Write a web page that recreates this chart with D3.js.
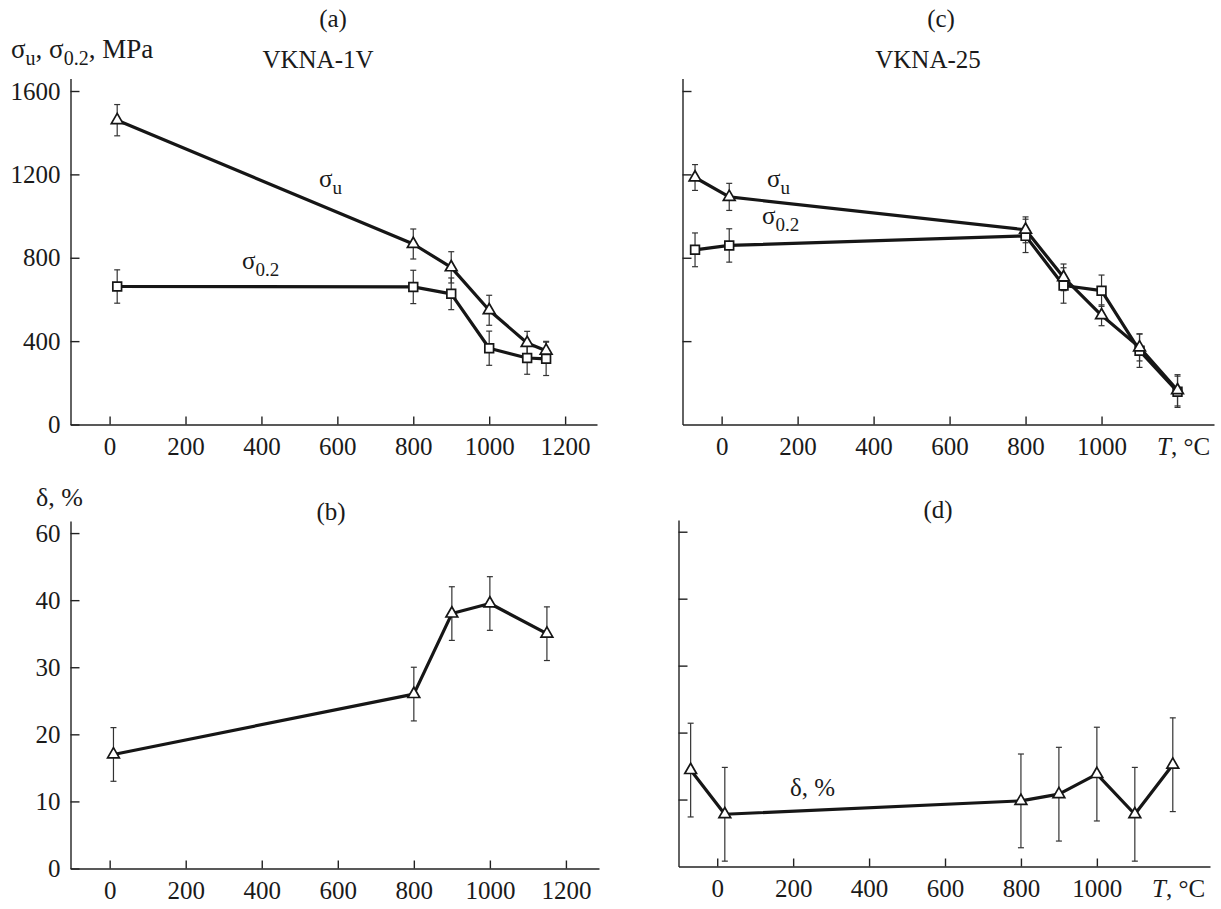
<!DOCTYPE html>
<html>
<head>
<meta charset="utf-8">
<script src="https://cdn.jsdelivr.net/npm/d3@7"></script>
<style>
  body { margin: 0; background: #fff; }
</style>
</head>
<body>
<svg id="chart" width="1221" height="909"></svg>
<script>
// (a) VKNA-1V strength
const tempA = [20, 800, 900, 1000, 1100, 1150];
const sigmaUA = [1460, 866, 754, 548, 391, 354];
const sigmaUErrA = [75, 72, 75, 72, 56, 45];
const sigma02A = [662, 660, 627, 366, 319, 315];
const sigma02ErrA = [80, 80, 76, 82, 78, 80];

// (b) VKNA-1V elongation
const tempB = [10, 800, 900, 1000, 1150];
const deltaB = [17, 26, 38, 39.5, 35];
const deltaErrB = [4, 4, 4, 4, 4];

// (c) VKNA-25 strength
const tempC = [-70, 20, 800, 900, 1000, 1100, 1200];
const sigmaUC = [1185, 1092, 934, 706, 524, 370, 164];
const sigmaUErrC = [62, 65, 62, 64, 50, 65, 75];
const sigma02C = [838, 859, 905, 667, 642, 354, 157];
const sigma02ErrC = [81, 80, 80, 85, 75, 80, 75];

// (d) VKNA-25 elongation
const tempD = [-70, 20, 800, 900, 1000, 1100, 1200];
const deltaD = [14.4, 7.8, 9.8, 10.8, 13.8, 7.8, 15.2];
const deltaErrD = [7, 7, 7, 7, 7, 7, 7];

// ticks
const tempTicks = [0, 200, 400, 600, 800, 1000, 1200];
const tempTicksC = [0, 200, 400, 600, 800, 1000];
const stressTicks = [0, 400, 800, 1200, 1600];
const stressTicksC = [400, 800, 1200, 1600];
const deltaTicks = [0, 10, 20, 30, 40, 50];
const deltaTickLabels = ['0', '10', '20', '30', '40', '60'];
const deltaTicksD = [10, 20, 30, 40, 50];

(function() {
'use strict';

const svg = d3.select('#chart');
const ink = '#161616';
const serif = '"Liberation Serif", serif';

function makePanel(p) {
  const x = d3.scaleLinear().domain(p.xDomain).range(p.xRange);
  const y = d3.scaleLinear().domain(p.yDomain).range(p.yRange);

  const xAxis = d3.axisBottom(x)
    .tickValues(p.xTicks)
    .tickSize(-8)
    .tickSizeOuter(0)
    .tickPadding(13)
    .tickFormat(d3.format('d'));

  const yAxis = d3.axisLeft(y)
    .tickValues(p.yTicks)
    .tickSize(-9)
    .tickSizeOuter(0)
    .tickPadding(10)
    .tickFormat(p.yFormat);

  [
    svg.append('g').attr('transform', 'translate(0,' + p.yRange[0] + ')').call(xAxis),
    svg.append('g').attr('transform', 'translate(' + p.xRange[0] + ',0)').call(yAxis)
  ].forEach(function(ax) {
    ax.attr('font-family', null).attr('font-size', null).attr('color', '#222');
    ax.selectAll('text')
      .style('font-family', serif)
      .style('font-size', '25px')
      .attr('fill', '#1a1a1a');
    ax.selectAll('path, line').attr('stroke-width', 1.4);
  });

  return {x: x, y: y};
}

function drawSeries(panel, xs, ys, errs, symbolType, symbolSize) {
  const rows = xs.map(function(d, i) { return {t: d, v: ys[i], e: errs[i]}; });
  const x = panel.x;
  const y = panel.y;

  const bars = svg.append('g').attr('stroke', '#333').attr('stroke-width', 1.2);
  rows.forEach(function(d) {
    bars.append('line')
      .attr('x1', x(d.t)).attr('x2', x(d.t))
      .attr('y1', y(d.v - d.e)).attr('y2', y(d.v + d.e));
    [d.v - d.e, d.v + d.e].forEach(function(v) {
      bars.append('line')
        .attr('x1', x(d.t) - 3).attr('x2', x(d.t) + 3)
        .attr('y1', y(v)).attr('y2', y(v));
    });
  });

  svg.append('path')
    .datum(rows)
    .attr('fill', 'none')
    .attr('stroke', ink)
    .attr('stroke-width', 3.2)
    .attr('stroke-linejoin', 'round')
    .attr('d', d3.line().x(function(d) { return x(d.t); }).y(function(d) { return y(d.v); }));

  return function() {
    svg.append('g').selectAll('path')
      .data(rows)
      .enter()
      .append('path')
      .attr('d', d3.symbol().type(symbolType).size(symbolSize))
      .attr('transform', function(d) { return 'translate(' + x(d.t) + ',' + y(d.v) + ')'; })
      .attr('fill', '#fff')
      .attr('stroke', ink)
      .attr('stroke-width', 1.7);
  };
}

function label(x, y, parts, anchor, size) {
  const big = size || 25;
  const small = Math.round(big * 0.74);
  const t = svg.append('text')
    .attr('x', x).attr('y', y)
    .style('font-family', serif)
    .style('font-size', big + 'px')
    .attr('fill', '#1a1a1a')
    .attr('text-anchor', anchor || 'start');
  let shifted = false;
  parts.forEach(function(part) {
    const ts = t.append('tspan').text(part[0]);
    if (part[1] === 'sub') {
      ts.style('font-size', small + 'px');
      if (!shifted) ts.attr('dy', 7);
      shifted = true;
    } else {
      if (shifted) ts.attr('dy', -7);
      shifted = false;
      if (part[1] === 'it') ts.style('font-style', 'italic');
    }
  });
}

const noLabel = function() { return ''; };

// (a)
const pa = makePanel({
  xDomain: [-103, 1284], xRange: [70.5, 597],
  yDomain: [0, 1660], yRange: [424.5, 78.5],
  xTicks: tempTicks, yTicks: stressTicks, yFormat: d3.format('d')
});
const markA1 = drawSeries(pa, tempA, sigma02A, sigma02ErrA, d3.symbolSquare, 76);
const markA2 = drawSeries(pa, tempA, sigmaUA, sigmaUErrA, d3.symbolTriangle, 60);
markA1(); markA2();

// (c)
const pc = makePanel({
  xDomain: [-103, 1296], xRange: [682.5, 1214],
  yDomain: [0, 1660], yRange: [424.5, 78.5],
  xTicks: tempTicksC, yTicks: stressTicksC, yFormat: noLabel
});
const markC1 = drawSeries(pc, tempC, sigma02C, sigma02ErrC, d3.symbolSquare, 76);
const markC2 = drawSeries(pc, tempC, sigmaUC, sigmaUErrC, d3.symbolTriangle, 60);
markC1(); markC2();

// (b)
const pb = makePanel({
  xDomain: [-103, 1287], xRange: [70.5, 599],
  yDomain: [0, 51.8], yRange: [868.5, 521],
  xTicks: tempTicks, yTicks: deltaTicks,
  yFormat: function(d, i) { return deltaTickLabels[i]; }
});
drawSeries(pb, tempB, deltaB, deltaErrB, d3.symbolTriangle, 60)();

// (d)
const pd = makePanel({
  xDomain: [-102, 1298], xRange: [678.5, 1210],
  yDomain: [0, 51.75], yRange: [866.5, 520],
  xTicks: tempTicksC, yTicks: deltaTicksD, yFormat: noLabel
});
drawSeries(pd, tempD, deltaD, deltaErrD, d3.symbolTriangle, 60)();

// titles and labels
label(333, 27, [['(a)']], 'middle');
label(318, 68, [['VKNA-1V']], 'middle');
label(941, 27, [['(c)']], 'middle');
label(928, 68, [['VKNA-25']], 'middle');
label(331, 520, [['(b)']], 'middle');
label(938, 518, [['(d)']], 'middle');

label(11, 58, [['σ'], ['u', 'sub'], [', σ'], ['0.2', 'sub'], [', MPa']], 'start', 27);
label(36, 506, [['δ, %']], 'start', 26);
label(1157, 455, [['T', 'it'], [', °C']]);
label(1152, 897, [['T', 'it'], [', °C']]);

label(319, 187, [['σ'], ['u', 'sub']]);
label(242, 269, [['σ'], ['0.2', 'sub']]);
label(767, 187, [['σ'], ['u', 'sub']]);
label(762, 224, [['σ'], ['0.2', 'sub']]);
label(790, 796, [['δ, %']]);

})();
</script>
</body>
</html>
